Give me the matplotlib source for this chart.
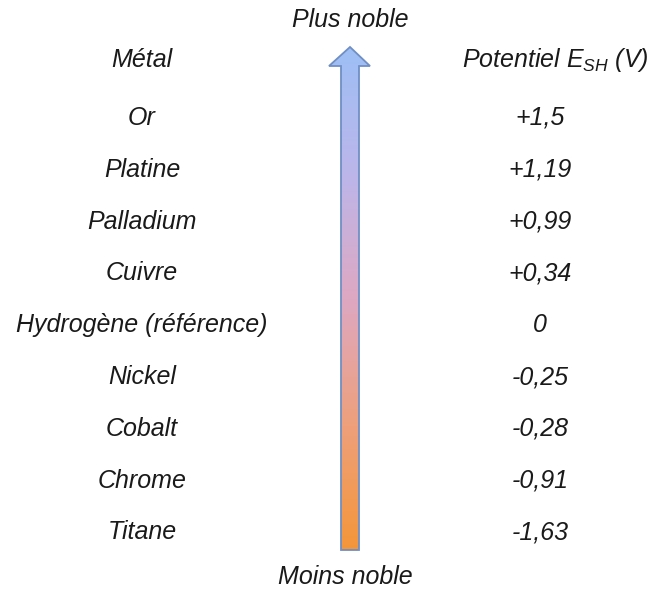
import matplotlib
matplotlib.use("Agg")
import matplotlib.pyplot as plt
import numpy as np
from matplotlib.patches import Polygon
from matplotlib.colors import LinearSegmentedColormap

metals = ["Or", "Platine", "Palladium", "Cuivre", "Hydrogène (référence)",
          "Nickel", "Cobalt", "Chrome", "Titane"]
potentials = ["+1,5", "+1,19", "+0,99", "+0,34", "0", "-0,25", "-0,28", "-0,91", "-1,63"]
header_left = "Métal"
header_right = r"Potentiel $E_{SH}$ (V)"
top_label = "Plus noble"
bottom_label = "Moins noble"

plt.rcParams['font.family'] = ['Liberation Sans', 'DejaVu Sans']
plt.rcParams['mathtext.fontset'] = 'custom'
plt.rcParams['mathtext.it'] = 'Liberation Sans:italic'
plt.rcParams['mathtext.rm'] = 'Liberation Sans:italic'

W, H = 651, 589
fig = plt.figure(figsize=(W / 100, H / 100), dpi=100)
ax = fig.add_axes([0, 0, 1, 1])
ax.set_xlim(0, W)
ax.set_ylim(H, 0)
ax.axis('off')

fs = 18
color = '#1a1a1a'
ax.text(142, 60, header_left, ha='center', va='center', fontsize=fs, style='italic', color=color)
ax.text(555, 60, header_right, ha='center', va='center', fontsize=fs, style='italic', color=color)
ax.text(350, 20, top_label, ha='center', va='center', fontsize=fs, style='italic', color=color)
ax.text(345, 577, bottom_label, ha='center', va='center', fontsize=fs, style='italic', color=color)

y0, dy = 118, 51.8
for i, (m, p) in enumerate(zip(metals, potentials)):
    y = y0 + i * dy
    ax.text(142, y, m, ha='center', va='center', fontsize=fs, style='italic', color=color)
    ax.text(540, y, p, ha='center', va='center', fontsize=fs, style='italic', color=color)

# arrow
sx0, sx1 = 341, 359
hx0, hx1 = 329, 370
tip, hb, bot = 47, 66, 550
cx = (sx0 + sx1) / 2
verts = [(cx, tip), (hx1, hb), (sx1, hb), (sx1, bot), (sx0, bot), (sx0, hb), (hx0, hb)]
poly = Polygon(verts, closed=True, facecolor='none', edgecolor='#6f8fc4', lw=1.3, zorder=3)
ax.add_patch(poly)
cmap = LinearSegmentedColormap.from_list('g', ['#9dbff5', '#bcb6ea', '#dea8c2', '#eea07c', '#f4963a'])
grad = np.linspace(0, 1, 256).reshape(-1, 1)
im = ax.imshow(grad, cmap=cmap, extent=(hx0, hx1, bot, tip), aspect='auto', zorder=2)
clip = Polygon(verts, closed=True, transform=ax.transData, facecolor='none', edgecolor='none')
ax.add_patch(clip)
im.set_clip_path(clip)
ax.set_xlim(0, W)
ax.set_ylim(H, 0)

fig.savefig('out.png', dpi=100)
